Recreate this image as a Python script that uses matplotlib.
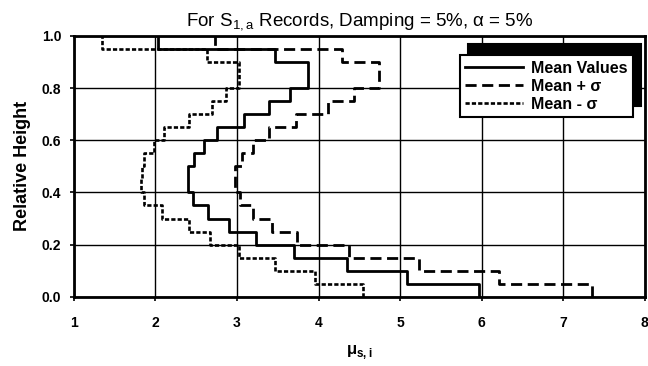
import numpy as np
import matplotlib
matplotlib.use("Agg")
import matplotlib.pyplot as plt

# story boundaries (relative height), 20 stories
heights = np.linspace(0.0, 1.0, 21)

# values per story, bottom to top
mean_values = [5.97, 5.09, 4.35, 3.70, 3.23, 2.90, 2.65, 2.46, 2.40, 2.40,
               2.47, 2.59, 2.75, 3.08, 3.39, 3.65, 3.87, 3.87, 3.47, 2.03]
mean_plus = [7.35, 6.21, 5.23, 4.37, 3.74, 3.43, 3.20, 3.04, 2.97, 2.98,
             3.06, 3.20, 3.39, 3.72, 4.12, 4.43, 4.74, 4.74, 4.29, 2.73]
mean_minus = [4.55, 3.96, 3.47, 3.02, 2.67, 2.41, 2.08, 1.86, 1.82, 1.83,
              1.86, 1.98, 2.10, 2.41, 2.69, 2.86, 3.02, 3.02, 2.63, 1.34]

plt.rcParams['font.family'] = ['Liberation Sans', 'DejaVu Sans']


def steps(vals):
    # vertical segment for each story, joined by horizontals at the floors
    xs = np.repeat(vals, 2)
    ys = np.column_stack([heights[:-1], heights[1:]]).ravel()
    return xs, ys


fig = plt.figure(figsize=(6.48, 3.66), dpi=100)
ax = fig.add_axes([0.114, 0.189, 0.881, 0.713])

x, y = steps(mean_values)
ax.plot(x, y, color="black", lw=2.0, label="Mean Values")
x, y = steps(mean_plus)
ax.plot(x, y, color="black", lw=2.0, dashes=(4, 2), label="Mean + σ")
x, y = steps(mean_minus)
ax.plot(x, y, color="black", lw=1.9, dashes=(1.6, 0.8), label="Mean - σ")

ax.set_xlim(1, 8)
ax.set_ylim(0, 1.0)
ax.set_xticks(range(1, 9))
ax.set_yticks(np.arange(0, 1.01, 0.2))
ax.set_yticklabels([f"{v:.1f}" for v in np.arange(0, 1.01, 0.2)])
ax.grid(True, color="black", lw=1.0)
ax.set_axisbelow(True)
for s in ax.spines.values():
    s.set_linewidth(2.0)
ax.tick_params(direction="out", length=3, width=1.2, labelsize=10)
ax.tick_params(axis="x", pad=11)
ax.tick_params(axis="y", pad=6)
for lab in ax.get_xticklabels() + ax.get_yticklabels():
    lab.set_fontweight("bold")

ax.set_title("For S$_{\\mathregular{1,a}}$ Records, Damping = 5%, α = 5%", fontsize=13.5, pad=7)
ax.set_ylabel("Relative Height", fontsize=13, fontweight="bold", labelpad=8)
ax.set_xlabel("μ$_{\\mathregular{s,i}}$", fontsize=12, fontweight="bold", labelpad=9)

leg = ax.legend(loc="upper right", bbox_to_anchor=(0.979, 0.927), borderaxespad=0,
                prop={'weight': 'bold', 'size': 11.5}, fancybox=False, framealpha=1,
                edgecolor="black", handlelength=3.6, handletextpad=0.5,
                borderpad=0.35, labelspacing=0.2,
                shadow={'ox': 6, 'oy': 8, 'facecolor': 'black', 'edgecolor': 'black', 'alpha': 1})
leg.get_frame().set_linewidth(1.5)

fig.savefig("out.png", dpi=100)
